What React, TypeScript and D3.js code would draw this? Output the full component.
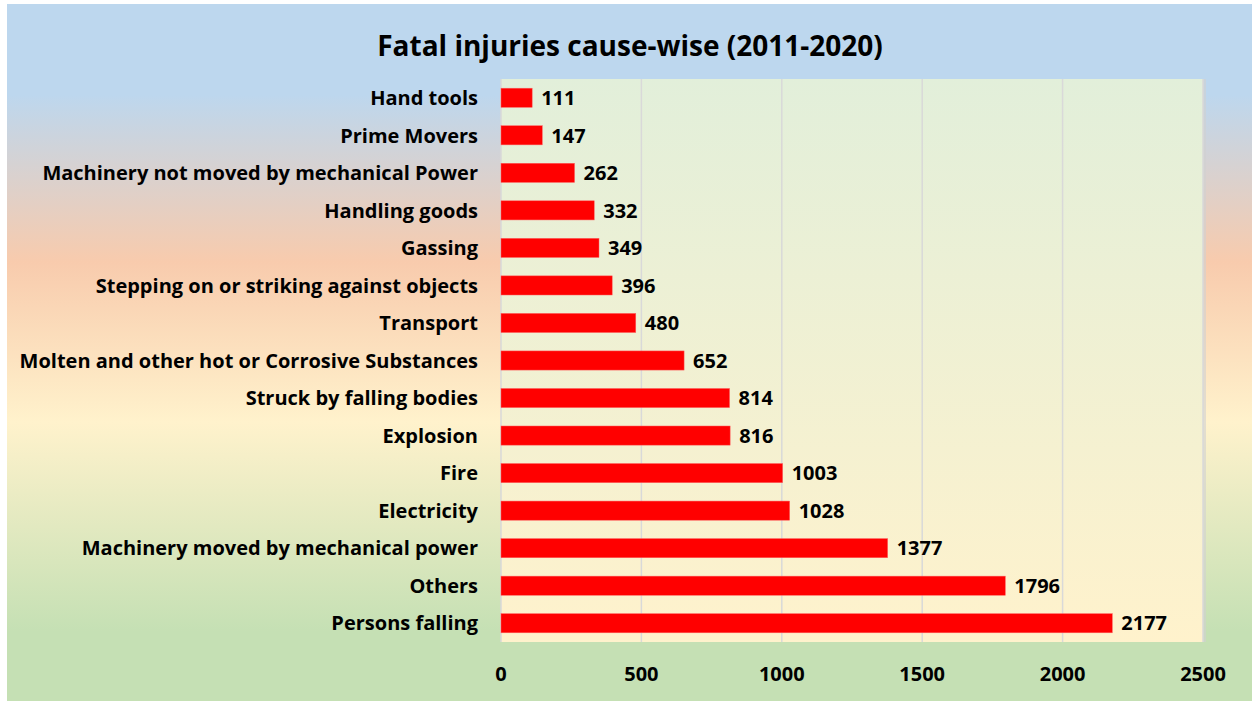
import React from "react";
import * as d3 from "d3";

const categories = [
  "Hand tools",
  "Prime Movers",
  "Machinery not moved by mechanical Power",
  "Handling goods",
  "Gassing",
  "Stepping on or striking against objects",
  "Transport",
  "Molten and other hot or Corrosive Substances",
  "Struck by falling bodies",
  "Explosion",
  "Fire",
  "Electricity",
  "Machinery moved by mechanical power",
  "Others",
  "Persons falling",
];
const values = [111, 147, 262, 332, 349, 396, 480, 652, 814, 816, 1003, 1028, 1377, 1796, 2177];
const xTicks = [0, 500, 1000, 1500, 2000, 2500];
const title = "Fatal injuries cause-wise (2011-2020)";

const W = 1252;
const H = 701;
const plot = { left: 501, top: 79, right: 1203, bottom: 642 };
const FONT = "'Open Sans', sans-serif";

export default function App() {
  const x = d3.scaleLinear().domain([0, 2500]).range([plot.left, plot.right]);
  const y = d3
    .scaleBand<string>()
    .domain(categories)
    .range([plot.top, plot.bottom])
    .paddingInner(0.49)
    .paddingOuter(0.245);

  return (
    <svg
      width={W}
      height={H}
      style={{ position: "absolute", left: 0, top: 0, display: "block" }}
    >
      <defs>
        <linearGradient id="bg" x1="0" y1="0" x2="0" y2="1">
          <stop offset="0" stopColor="#BDD7EE" />
          <stop offset="0.13" stopColor="#BDD7EE" />
          <stop offset="0.37" stopColor="#F8CBAD" />
          <stop offset="0.6" stopColor="#FFF2CC" />
          <stop offset="0.9" stopColor="#C5E0B4" />
          <stop offset="1" stopColor="#C5E0B4" />
        </linearGradient>
        <linearGradient id="plotbg" x1="0" y1="0" x2="0" y2="1">
          <stop offset="0" stopColor="#E2EFDA" />
          <stop offset="1" stopColor="#FFF2CC" />
        </linearGradient>
      </defs>
      <rect x={7} y={4} width={W - 7} height={H - 4} fill="url(#bg)" />
      <rect x={plot.right} y={plot.top} width={3} height={plot.bottom - plot.top} fill="#D0D0D0" opacity={0.6} />
      <rect
        x={plot.left}
        y={plot.top}
        width={plot.right - plot.left}
        height={plot.bottom - plot.top}
        fill="url(#plotbg)"
      />
      {xTicks.map((t) => (
        <line
          key={"g" + t}
          x1={x(t)}
          x2={x(t)}
          y1={plot.top}
          y2={plot.bottom}
          stroke="#D9D9D9"
          strokeWidth={1.5}
        />
      ))}
      <text
        x={630}
        y={56}
        textAnchor="middle"
        fontFamily={FONT}
        fontWeight="bold"
        fontSize={28}
        fill="#000"
      >
        {title}
      </text>
      {categories.map((c, i) => {
        const by = y(c)!;
        const bh = y.bandwidth();
        return (
          <g key={c}>
            <rect
              x={x(0)}
              y={by}
              width={x(values[i]) - x(0)}
              height={bh}
              fill="#FF0000"
              stroke="#FF6060"
              strokeWidth={0.5}
            />
            <text
              x={478}
              y={by + bh / 2}
              dy="0.36em"
              textAnchor="end"
              fontFamily={FONT}
              fontWeight="bold"
              fontSize={20}
              fill="#000"
            >
              {c}
            </text>
            <text
              x={x(values[i]) + 9}
              y={by + bh / 2}
              dy="0.36em"
              textAnchor="start"
              fontFamily={FONT}
              fontWeight="bold"
              fontSize={20}
              fill="#000"
            >
              {values[i]}
            </text>
          </g>
        );
      })}
      {xTicks.map((t) => (
        <text
          key={"t" + t}
          x={x(t)}
          y={681}
          textAnchor="middle"
          fontFamily={FONT}
          fontWeight="bold"
          fontSize={20}
          fill="#000"
        >
          {t}
        </text>
      ))}
    </svg>
  );
}
